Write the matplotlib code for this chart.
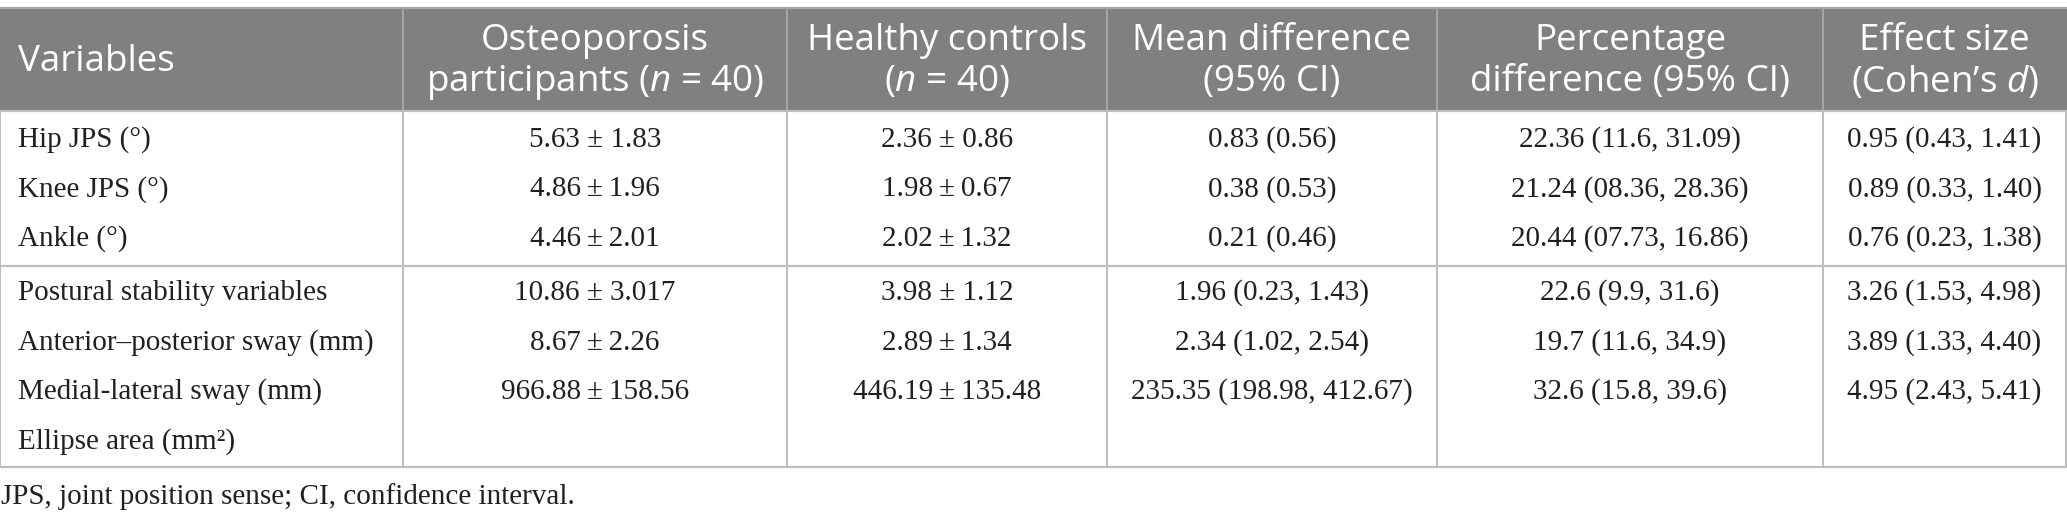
import matplotlib.pyplot as plt
from matplotlib.patches import Rectangle

# table content
header_top = ["", "Osteoporosis", "Healthy controls", "Mean difference", "Percentage", "Effect size"]
header_bottom = ["Variables", "participants ($n$ = 40)", "($n$ = 40)", "(95% CI)",
                 "difference (95% CI)", "(Cohen\u2019s $d$)"]

group1_labels = ["Hip JPS (\u00b0)", "Knee JPS (\u00b0)", "Ankle (\u00b0)"]
group1_osteo = ["5.63 \u00b1 1.83", "4.86\u2009\u00b1\u20091.96", "4.46\u2009\u00b1\u20092.01"]
group1_healthy = ["2.36 \u00b1 0.86", "1.98\u2009\u00b1\u20090.67", "2.02\u2009\u00b1\u20091.32"]
group1_meandiff = ["0.83 (0.56)", "0.38 (0.53)", "0.21 (0.46)"]
group1_pctdiff = ["22.36 (11.6, 31.09)", "21.24 (08.36, 28.36)", "20.44 (07.73, 16.86)"]
group1_effect = ["0.95 (0.43, 1.41)", "0.89 (0.33, 1.40)", "0.76 (0.23, 1.38)"]

group2_labels = ["Postural stability variables", "Anterior\u2013posterior sway (mm)",
                 "Medial-lateral sway (mm)", "Ellipse area (mm\u00b2)"]
group2_osteo = ["10.86 \u00b1 3.017", "8.67\u2009\u00b1\u20092.26", "966.88\u2009\u00b1\u2009158.56", ""]
group2_healthy = ["3.98 \u00b1 1.12", "2.89\u2009\u00b1\u20091.34", "446.19\u2009\u00b1\u2009135.48", ""]
group2_meandiff = ["1.96 (0.23, 1.43)", "2.34 (1.02, 2.54)", "235.35 (198.98, 412.67)", ""]
group2_pctdiff = ["22.6 (9.9, 31.6)", "19.7 (11.6, 34.9)", "32.6 (15.8, 39.6)", ""]
group2_effect = ["3.26 (1.53, 4.98)", "3.89 (1.33, 4.40)", "4.95 (2.43, 5.41)", ""]

footnote = "JPS, joint position sense; CI, confidence interval."

plt.rcParams['mathtext.fontset'] = 'custom'
plt.rcParams['mathtext.rm'] = 'Open Sans'
plt.rcParams['mathtext.it'] = 'Open Sans:italic'

W, H = 2067, 528
fig = plt.figure(figsize=(W / 100, H / 100), dpi=100)
ax = fig.add_axes([0, 0, 1, 1])
ax.set_xlim(0, W)
ax.set_ylim(H, 0)
ax.axis('off')

col_edges = [0, 403, 787, 1107, 1437, 1823, 2066]
head_y0, head_y1 = 9, 111
sep_y = 266
bottom_y = 467
line_col = "#bdbdbd"
text_col = "#231f20"

# header background
ax.add_patch(Rectangle((0, head_y0), W, head_y1 - head_y0, color="#808080", lw=0))
ax.plot([0, W], [head_y0 - 1, head_y0 - 1], color="#a6a6a6", lw=1.6)
for x in col_edges[1:-1]:
    ax.plot([x, x], [head_y0, head_y1], color="#a6a6a6", lw=1.4)

hfont = dict(family="Open Sans", fontsize=26.5, color="white")
ax.text(18, 62, header_bottom[0], ha="left", va="center", **hfont)
for i in range(1, 6):
    cx = (col_edges[i] + col_edges[i + 1]) / 2
    ax.text(cx, 41, header_top[i], ha="center", va="center", **hfont)
    ax.text(cx, 82, header_bottom[i], ha="center", va="center", **hfont)

# grid lines in the body
for y in [head_y1, sep_y, bottom_y]:
    ax.plot([0, W], [y, y], color=line_col, lw=1.6)
for x in col_edges:
    ax.plot([x, x], [head_y1, bottom_y], color=line_col, lw=1.4)

bfont = dict(family="Liberation Serif", fontsize=21, color=text_col)
groups = [
    (140, group1_labels, [group1_osteo, group1_healthy, group1_meandiff, group1_pctdiff, group1_effect]),
    (293, group2_labels, [group2_osteo, group2_healthy, group2_meandiff, group2_pctdiff, group2_effect]),
]
pitch = 49.5
for y0, labels, cols in groups:
    for r, lab in enumerate(labels):
        y = y0 + r * pitch
        ax.text(18, y, lab, ha="left", va="center", **bfont)
        for c, vals in enumerate(cols):
            cx = (col_edges[c + 1] + col_edges[c + 2]) / 2
            ax.text(cx, y, vals[r], ha="center", va="center", **bfont)

ax.text(1, 497, footnote, ha="left", va="center", **bfont)

fig.savefig("out.png", dpi=100)
